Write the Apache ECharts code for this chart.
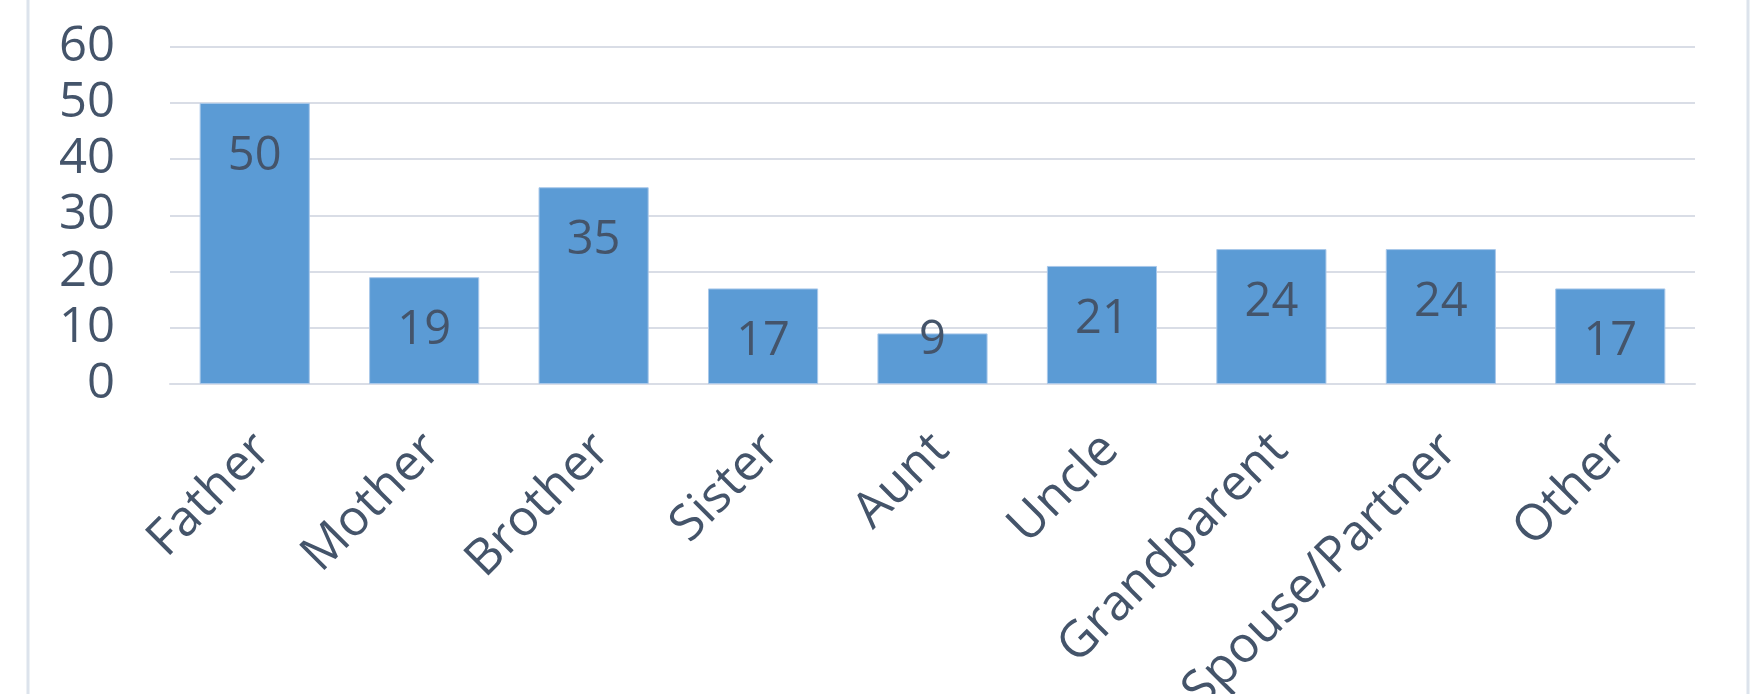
<!DOCTYPE html>
<html><head><meta charset="utf-8">
<script src="https://cdn.jsdelivr.net/npm/echarts@6/dist/echarts.min.js"></script>
<style>html,body{margin:0;padding:0;background:#fff}#c{width:1753px;height:694px}</style>
</head><body><div id="c"></div>
<script>
const categories = ['Father','Mother','Brother','Sister','Aunt','Uncle','Grandparent','Spouse/Partner','Other'];
const values = [50,19,35,17,9,21,24,24,17];
const yTicks = [0,10,20,30,40,50,60];

const FONT = 'Open Sans';
const TXT = '#44546A';
const chart = echarts.init(document.getElementById('c'), null, {renderer:'canvas'});
const data = values.map(v => v < 12
  ? {value: v, label: {position: 'insideTop', distance: -16}}
  : {value: v});
chart.setOption({
  animation: false,
  grid: {left: 170, right: 58, top: 46.7, bottom: 310, containLabel: false, outerBoundsMode: 'none'},
  graphic: [{type:'rect', shape:{x:28, y:-10, width:1720, height:720}, style:{fill:'none', stroke:'#DCE3EC', lineWidth:3}, z:-1}],
  xAxis: {
    type: 'category', data: categories,
    axisLine: {show: true, lineStyle: {color: '#D9DDE6', width: 2}},
    axisTick: {show: false},
    axisLabel: {rotate: 45, interval: 0, margin: 31, align: 'right', verticalAlign: 'top', padding: [0, 13, 0, 0], color: TXT, fontFamily: FONT, fontSize: 50}
  },
  yAxis: {
    type: 'value', min: yTicks[0], max: yTicks[yTicks.length-1], interval: 10,
    axisLine: {show: false}, axisTick: {show: false},
    splitLine: {lineStyle: {color: '#D9DDE6', width: 2}},
    axisLabel: {margin: 55, color: TXT, fontFamily: FONT, fontSize: 49}
  },
  series: [{
    type: 'bar', data: data, barWidth: '65%',
    itemStyle: {color: '#5B9BD5', borderColor: '#A9C8EA', borderWidth: 1},
    label: {show: true, position: 'insideTop', distance: 30, color: TXT, fontFamily: FONT, fontSize: 47}
  }]
});
</script></body></html>
